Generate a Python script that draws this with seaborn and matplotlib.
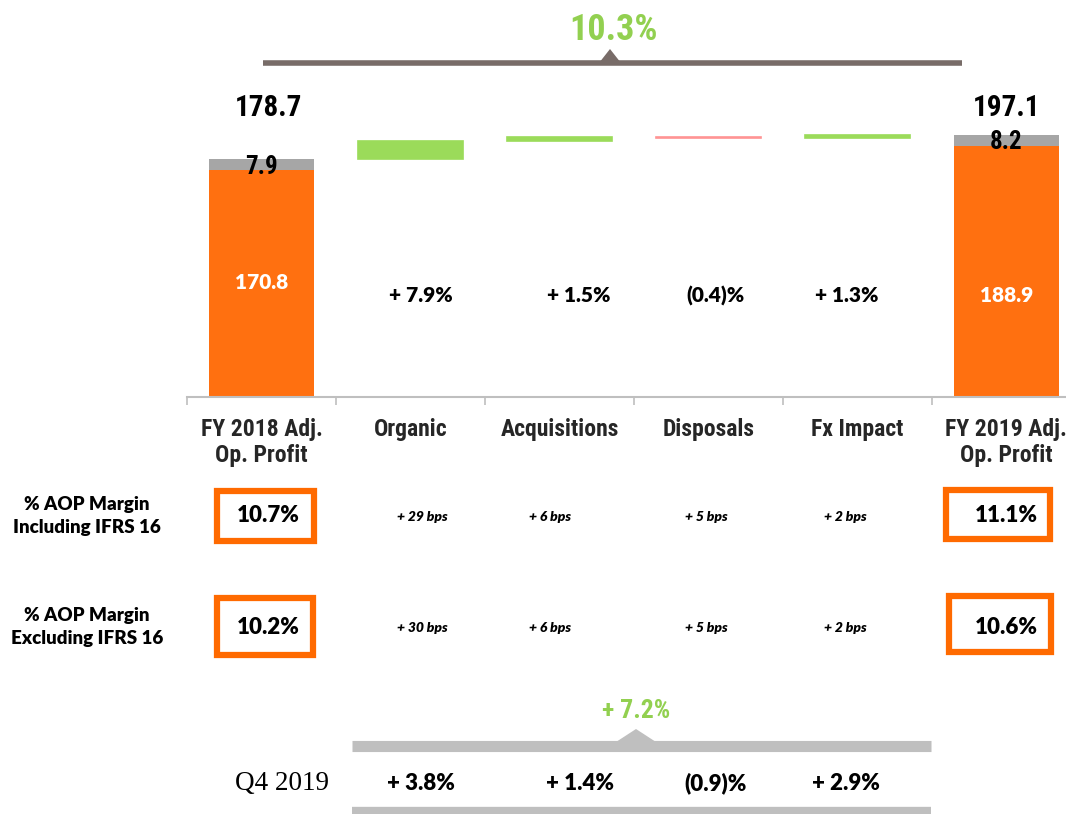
import numpy as np
import pandas as pd
import seaborn as sns
import matplotlib.pyplot as plt
from matplotlib.patches import Rectangle, Polygon

# data
categories = ["FY 2018 Adj.\nOp. Profit", "Organic", "Acquisitions",
              "Disposals", "Fx Impact", "FY 2019 Adj.\nOp. Profit"]
base_values = [170.8, 0, 0, 0, 0, 188.9]      # orange part of the totals
ifrs_values = [7.9, 0, 0, 0, 0, 8.2]          # grey IFRS 16 part
change_values = [0, 14.1, 2.7, -0.7, 2.3, 0]  # bridge steps
growth_labels = ["", "+ 7.9%", "+ 1.5%", "(0.4)%", "+ 1.3%", ""]
total_growth = "10.3%"

margin_rows = ["% AOP Margin\nIncluding IFRS 16", "% AOP Margin\nExcluding IFRS 16"]
margin_start = ["10.7%", "10.2%"]
margin_end = ["11.1%", "10.6%"]
margin_bps = [["+ 29 bps", "+ 6 bps", "+ 5 bps", "+ 2 bps"],
              ["+ 30 bps", "+ 6 bps", "+ 5 bps", "+ 2 bps"]]

q4_label = "Q4 2019"
q4_values = ["+ 3.8%", "+ 1.4%", "(0.9)%", "+ 2.9%"]
q4_total = "+ 7.2%"

ORANGE = "#FF7010"
GREY = "#A6A6A6"
GREEN = "#9BDB5A"
PINK = "#FF9494"
TXT_GREEN = "#92D050"

sns.set_theme(style="white")
NARROW = dict(fontfamily=["Roboto Condensed", "DejaVu Sans"], fontstretch="condensed",
              fontweight="bold")
SANS = ["Lato", "DejaVu Sans"]
plt.rcParams["font.family"] = SANS

# running totals for the floating bars
totals = [b + g for b, g in zip(base_values, ifrs_values)]
bottoms = []
running = totals[0]
for c in change_values:
    if c == 0:
        bottoms.append(0)
    elif c > 0:
        bottoms.append(running)
        running += c
    else:
        running += c
        bottoms.append(running)

df = pd.DataFrame({
    "category": categories,
    "base": base_values,
    "ifrs": ifrs_values,
    "change": np.abs(change_values),
    "change_bottom": bottoms,
})

W, H = 1066, 814
fig = plt.figure(figsize=(W / 100, H / 100), dpi=100)

# waterfall axes: baseline at y=397px, 149px per category
ax = fig.add_axes([187 / W, (H - 397) / H, (W - 187) / W, 292.4 / H])
sns.barplot(data=df, x="category", y="base", color=ORANGE, width=0.7,
            saturation=1, linewidth=0, ax=ax)
sns.barplot(data=df, x="category", y="ifrs", color=GREY, width=0.7,
            saturation=1, linewidth=0, bottom=df["base"], ax=ax)
sns.barplot(data=df, x="category", y="change", color=GREEN, width=0.7,
            saturation=1, bottom=df["change_bottom"], ax=ax)
for patch, c in zip(ax.containers[-1], change_values):
    col = PINK if c < 0 else GREEN
    patch.set_facecolor(col)
    patch.set_edgecolor(col)
    patch.set_linewidth(1.2 if c != 0 else 0)

ax.set_xlim(-0.5, 5.4)
ax.set_ylim(0, 220)
ax.set_xlabel("")
ax.set_ylabel("")
ax.set_yticks([])
for s in ["left", "right", "top"]:
    ax.spines[s].set_visible(False)
ax.spines["bottom"].set_color("#BFBFBF")
ax.spines["bottom"].set_linewidth(1.5)
ax.set_xticks(range(len(categories)))
ax.set_xticklabels(categories, fontsize=17, linespacing=1.2, **NARROW)
ax.tick_params(axis="x", which="major", length=0, pad=15)
ax.set_xticks(np.arange(-0.5, 5, 1), minor=True)
ax.tick_params(axis="x", which="minor", length=6, width=1.2,
               color="#BFBFBF", direction="out", bottom=True)

# totals labels
ax.text(0.05, 217.5, f"{totals[0]:.1f}", ha="center", va="center",
        fontsize=21, color="black", **NARROW)
ax.text(5, 217.5, f"{totals[5]:.1f}", ha="center", va="center",
        fontsize=21, color="black", **NARROW)
for i in [0, 5]:
    ax.text(i, base_values[i] + ifrs_values[i] / 2 - 1.5, f"{ifrs_values[i]:.1f}",
            ha="center", va="center", fontsize=18, color="black", **NARROW)
ax.text(0, 85.8, f"{base_values[0]:.1f}", ha="center", va="center",
        fontweight="heavy", fontsize=15, color="white")
ax.text(5, 76, f"{base_values[5]:.1f}", ha="center", va="center",
        fontweight="heavy", fontsize=15, color="white")
growth_x = [0, 1.07, 2.13, 3.05, 3.93, 5]
for i, lab in enumerate(growth_labels):
    if lab:
        ax.text(growth_x[i], 76, lab, ha="center", va="center",
                fontweight="heavy", fontsize=15, color="black")

# overlay in pixel coordinates for the table below and the brackets
ov = fig.add_axes([0, 0, 1, 1])
ov.set_xlim(0, W)
ov.set_ylim(H, 0)
ov.axis("off")

# top bracket
ov.plot([263, 962], [63, 63], color="#786C68", lw=4, solid_capstyle="butt")
ov.add_patch(Polygon([[599, 63], [621, 63], [610, 49]], closed=True,
                     color="#786C68", lw=0))
ov.text(614, 30, total_growth, ha="center", va="center", color=TXT_GREEN,
        fontsize=26, **NARROW)

# margin rows
row_y = [516, 627]
start_boxes = [(214, 488, 103, 56), (214, 595, 102, 63)]
end_boxes = [(943, 487, 110, 55), (946, 593, 108, 62)]
bps_x = [422, 550, 706, 845]
for r in range(2):
    ov.text(87, row_y[r], margin_rows[r], ha="center", va="center",
            fontweight="heavy", fontsize=13.5, linespacing=1.4, color="black")
    x, y, w, h = start_boxes[r]
    ov.add_patch(Rectangle((x + 3, y + 3), w - 6, h - 6, fill=False,
                           edgecolor="#FF6A00", lw=4.5))
    ov.text(268, row_y[r], margin_start[r], ha="center", va="center",
            fontweight="heavy", fontsize=16, color="black")
    x, y, w, h = end_boxes[r]
    ov.add_patch(Rectangle((x + 3, y + 3), w - 6, h - 6, fill=False,
                           edgecolor="#FF6A00", lw=4.5))
    ov.text(1006, row_y[r], margin_end[r], ha="center", va="center",
            fontweight="heavy", fontsize=16, color="black")
    for bx, lab in zip(bps_x, margin_bps[r]):
        ov.text(bx, row_y[r] + 1, lab, ha="center", va="center",
                fontweight="heavy", style="italic", fontsize=10, color="black")

# Q4 bracket
ov.plot([352, 931], [746, 746], color="#BFBFBF", lw=8, solid_capstyle="butt")
ov.add_patch(Polygon([[616, 742], [656, 742], [636, 729]], closed=True,
                     color="#BFBFBF", lw=0))
ov.text(636, 711, q4_total, ha="center", va="center", color=TXT_GREEN,
        fontsize=18.5, **NARROW)
ov.text(282, 783, q4_label, ha="center", va="center", color="black",
        fontfamily=["Liberation Serif", "DejaVu Serif"], fontsize=19.5)
q4_x = [421, 580, 716, 846]
for qx, lab in zip(q4_x, q4_values):
    ov.text(qx, 783, lab, ha="center", va="center", fontweight="heavy",
            fontsize=16, color="black")
ov.plot([352, 931], [811, 811], color="#BFBFBF", lw=6, solid_capstyle="butt")

fig.savefig("out.png", dpi=100, facecolor="white")
